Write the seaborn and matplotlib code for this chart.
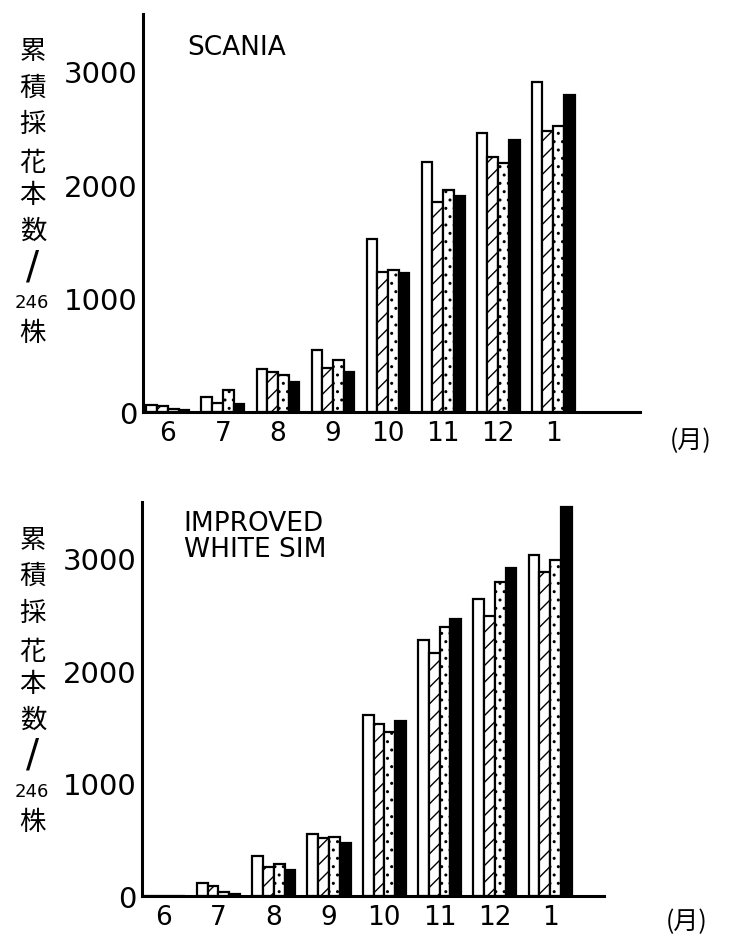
import matplotlib
matplotlib.use("Agg")
import matplotlib.pyplot as plt
import seaborn as sns
import pandas as pd
import numpy as np

months = ["6", "7", "8", "9", "10", "11", "12", "1"]
treatments = ["A", "B", "C", "D"]

scania_A = [60, 130, 375, 542, 1522, 2200, 2450, 2905]
scania_B = [55, 82, 352, 384, 1232, 1847, 2240, 2470]
scania_C = [30, 190, 325, 455, 1250, 1953, 2190, 2520]
scania_D = [20, 73, 267, 355, 1222, 1900, 2390, 2790]

iws_A = [0, 111, 351, 552, 1603, 2273, 2633, 3030]
iws_B = [0, 90, 252, 510, 1522, 2153, 2483, 2874]
iws_C = [0, 36, 282, 525, 1459, 2387, 2784, 2985]
iws_D = [0, 18, 225, 465, 1552, 2462, 2910, 3450]

yticks = [0, 1000, 2000, 3000]
ylabel_chars = ["累", "積", "採", "花", "本", "数"]

sns.set_style("white")
plt.rcParams["font.family"] = ["DejaVu Sans"]
plt.rcParams["text.color"] = "black"
plt.rcParams["xtick.color"] = "black"
plt.rcParams["ytick.color"] = "black"
plt.rcParams["axes.edgecolor"] = "black"
plt.rcParams["hatch.linewidth"] = 1.0

fills = ["white", "white", "white", "black"]
hatches = ["", "//", "..", ""]


def make_df(series):
    rows = []
    for t, vals in zip(treatments, series):
        for m, v in zip(months, vals):
            rows.append({"month": m, "treat": t, "value": v})
    return pd.DataFrame(rows)


fig = plt.figure(figsize=(7.29, 9.45), dpi=100)
ax1 = fig.add_axes([0.196, 0.563, 0.682, 0.421])
ax2 = fig.add_axes([0.195, 0.051, 0.634, 0.417])

panels = [
    (ax1, [scania_A, scania_B, scania_C, scania_D], "SCANIA", (-0.455, 8.58)),
    (ax2, [iws_A, iws_B, iws_C, iws_D], "IMPROVED\nWHITE SIM", (-0.38, 7.98)),
]

for ax, series, title, xl in panels:
    df = make_df(series)
    sns.barplot(data=df, x="month", y="value", hue="treat", order=months,
                hue_order=treatments, palette=fills, width=0.78, gap=0.0,
                edgecolor="black", linewidth=1.6, legend=False, ax=ax,
                errorbar=None)
    for i, cont in enumerate(ax.containers):
        for p in cont.patches:
            p.set_facecolor(fills[i])
            p.set_hatch(hatches[i])
            p.set_edgecolor("black")
    ax.set_xlim(*xl)
    ax.set_ylim(0, 3500)
    ax.set_yticks(yticks)
    ax.set_yticks([500, 1500, 2500, 3500], minor=True)
    ax.set_yticklabels([str(v) for v in yticks], fontsize=21, color="black")
    for lab in ax.get_xticklabels():
        lab.set_color("black")
    ax.tick_params(axis="y", which="major", direction="in", length=6, width=1.5, pad=4)
    ax.tick_params(axis="y", which="minor", direction="in", length=4, width=1.2)
    ax.tick_params(axis="x", length=0, labelsize=19, pad=6)
    ax.set_xlabel("")
    ax.set_ylabel("")
    for s in ["top", "right"]:
        ax.spines[s].set_visible(False)
    ax.spines["left"].set_linewidth(2.2)
    ax.spines["bottom"].set_linewidth(2.2)
    ax.text(0.09, 0.95 if "\n" not in title else 0.98, title, transform=ax.transAxes,
            fontsize=19, va="top", ha="left", linespacing=1.0, color="black")

cjk = ["Noto Sans CJK JP", "DejaVu Sans"]

# month unit labels
fig.text(0.947, 0.533, "(月)", fontsize=18, ha="center", va="center", family=cjk)
fig.text(0.942, 0.024, "(月)", fontsize=18, ha="center", va="center", family=cjk)

# vertical y labels for each panel
for top in [0.945, 0.428]:
    ys = [0.0, 0.038, 0.077, 0.118, 0.152, 0.19]
    for ch, dy in zip(ylabel_chars, ys):
        fig.text(0.045, top - dy, ch, fontsize=19, ha="center", va="center", family=cjk)
    fig.text(0.045, top - 0.228, "/", fontsize=28, ha="center", va="center",
             family=["DejaVu Sans"])
    fig.text(0.043, top - 0.266, "246", fontsize=13, ha="center", va="center")
    fig.text(0.045, top - 0.298, "株", fontsize=19, ha="center", va="center", family=cjk)

fig.savefig("out.png", dpi=100)
